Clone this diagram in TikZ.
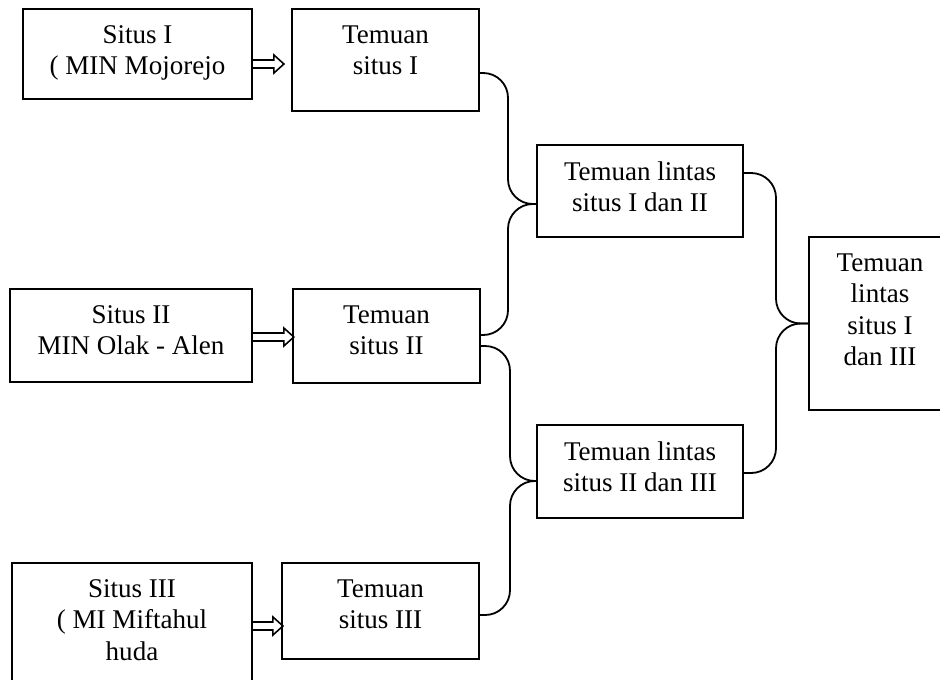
\documentclass[tikz,border=0pt]{standalone}
\usepackage{fontspec}
\setmainfont{Liberation Serif}
\usetikzlibrary{arrows.meta,positioning}
\tikzset{
  box/.style={draw,rectangle,line width=0.8pt,inner sep=0pt},
  boxtext/.style={align=center,inner sep=0pt,font=\fontsize{12}{14}\selectfont},
  brace/.style={line width=0.8pt,rounded corners=11pt},
  pics/hollowarrow/.style={code={
    \draw[line width=0.7pt] (0,-4) -- (#1,-4) -- (#1,-9) -- ++(10,9) -- (#1,9) -- (#1,4) -- (0,4);}}
}
\begin{document}
\begin{tikzpicture}[x=0.444pt,y=-0.444pt]
  \useasboundingbox (0,0) rectangle (940,679);
  \clip (0,0) rectangle (940,679);
  % boxes
  \node[box,minimum width=101.7pt,minimum height=40pt] (s1) at (137.5,54) {};
  \node[box,minimum width=83pt,minimum height=45.3pt] (t1) at (385.5,60) {};
  \node[box,minimum width=107.4pt,minimum height=41.3pt] (s2) at (131,335.5) {};
  \node[box,minimum width=83pt,minimum height=41.7pt] (t2) at (386.5,336) {};
  \node[box,minimum width=106.6pt,minimum height=69.7pt] (s3) at (132,641.5) {};
  \node[box,minimum width=87.5pt,minimum height=42.6pt] (t3) at (380.5,611) {};
  \node[box,minimum width=91.5pt,minimum height=40.8pt] (l12) at (640,191) {};
  \node[box,minimum width=91.5pt,minimum height=41.3pt] (l23) at (640,471.5) {};
  \node[box,minimum width=63pt,minimum height=76.8pt] (fin) at (880,323.5) {};
  % texts
  \node[boxtext,below=7.5pt of s1.north] (s1txt) {Situs I\\( MIN Mojorejo};
  \node[boxtext,below=7.5pt of t1.north] (t1txt) {Temuan\\situs I};
  \node[boxtext,below=7.5pt of s2.north] (s2txt) {Situs II\\MIN Olak - Alen};
  \node[boxtext,below=7.5pt of t2.north] (t2txt) {Temuan\\situs II};
  \node[boxtext,below=7.5pt of s3.north] (s3txt) {Situs III\\( MI Miftahul\\huda};
  \node[boxtext,below=7.5pt of t3.north] (t3txt) {Temuan\\situs III};
  \node[boxtext,below=7.5pt of l12.north] (l12txt) {Temuan lintas\\situs I dan II};
  \node[boxtext,below=7.5pt of l23.north] (l23txt) {Temuan lintas\\situs II dan III};
  \node[boxtext,below=7.5pt of fin.north] (fintxt) {Temuan\\lintas\\situs I\\dan III};
  % arrows
  \pic at (s1.east |- 0,64) {hollowarrow=21};
  \pic at (s2.east |- 0,337) {hollowarrow=31};
  \pic at (s3.east |- 0,626) {hollowarrow=20};
  % braces
  \draw[brace] (t1.east |- 0,73) -| (508,204) -- (l12.west |- 0,204);
  \draw[brace] (l12.west |- 0,204) -| (508,335) -- (t2.east |- 0,335);
  \draw[brace] (t2.east |- 0,346) -| (510,481) -- (l23.west |- 0,481);
  \draw[brace] (l23.west |- 0,481) -| (510,615) -- (t3.east |- 0,615);
  \draw[brace] (l12.east |- 0,173) -| (776,323.5) -- (fin.west);
  \draw[brace] (fin.west) -| (776,473) -- (l23.east |- 0,473);
\end{tikzpicture}
\end{document}
